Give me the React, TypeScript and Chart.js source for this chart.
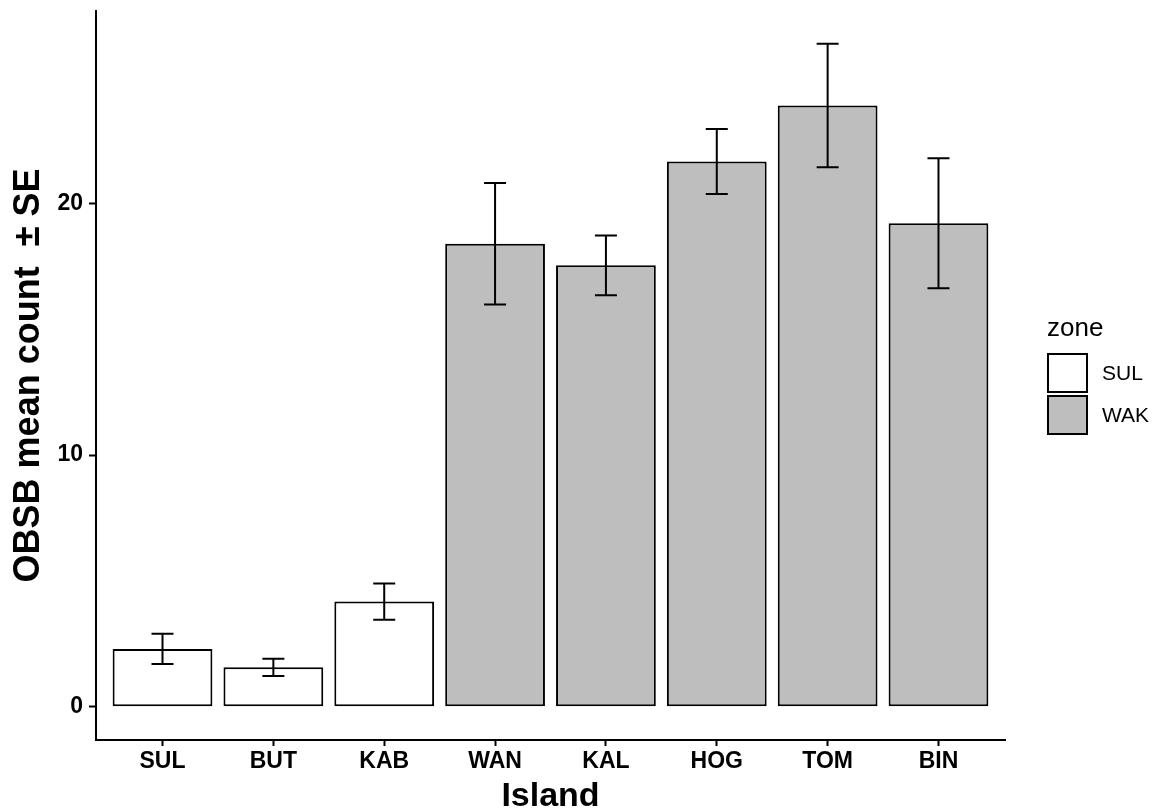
import React, { useEffect, useRef } from "react";
import { Chart, registerables } from "chart.js";

Chart.register(...registerables);

const islands = ["SUL", "BUT", "KAB", "WAN", "KAL", "HOG", "TOM", "BIN"];
const zones = ["SUL", "SUL", "SUL", "WAK", "WAK", "WAK", "WAK", "WAK"];
const means = [2.3, 1.57, 4.18, 18.39, 17.53, 21.65, 23.88, 19.2];
const ses = [0.6, 0.34, 0.72, 2.41, 1.19, 1.29, 2.45, 2.58];
const zoneNames = ["SUL", "WAK"];
const zoneColors = ["#FFFFFF", "#BEBEBE"];
const yTicks = [0, 10, 20];

const FONT = "'Liberation Sans', Arial, sans-serif";

const errorBarPlugin = {
  id: "errorBars",
  afterDatasetsDraw(chart: any) {
    const { ctx, scales } = chart;
    const xs = scales.x;
    const ys = scales.y;
    ctx.save();
    ctx.strokeStyle = "#000";
    ctx.lineWidth = 2;
    islands.forEach((_, i) => {
      const x = xs.getPixelForValue(i + 1);
      const lo = ys.getPixelForValue(means[i] - ses[i]);
      const hi = ys.getPixelForValue(means[i] + ses[i]);
      const half = 11;
      ctx.beginPath();
      ctx.moveTo(x, lo);
      ctx.lineTo(x, hi);
      ctx.moveTo(x - half, lo);
      ctx.lineTo(x + half, lo);
      ctx.moveTo(x - half, hi);
      ctx.lineTo(x + half, hi);
      ctx.stroke();
    });
    ctx.restore();
  },
};

const legendPlugin = {
  id: "ggLegend",
  afterDraw(chart: any) {
    const { ctx } = chart;
    ctx.save();
    ctx.fillStyle = "#000";
    ctx.textAlign = "left";
    ctx.textBaseline = "alphabetic";
    ctx.font = `26px ${FONT}`;
    ctx.fillText("zone", 1047, 336);
    zoneNames.forEach((z, i) => {
      const top = 354 + i * 42;
      ctx.fillStyle = zoneColors[i];
      ctx.fillRect(1048, top, 39, 38);
      ctx.strokeStyle = "#000";
      ctx.lineWidth = 2;
      ctx.strokeRect(1048, top, 39, 38);
      ctx.fillStyle = "#000";
      ctx.font = `21px ${FONT}`;
      ctx.textBaseline = "middle";
      ctx.fillText(z, 1102, top + 20);
    });
    ctx.restore();
  },
};

export default function App() {
  const ref = useRef<HTMLCanvasElement | null>(null);

  useEffect(() => {
    if (!ref.current) return;
    const datasets = zoneNames.map((z, zi) => ({
      label: z,
      data: islands
        .map((_, i) => ({ x: i + 1, y: means[i], zone: zones[i] }))
        .filter((d) => d.zone === z),
      backgroundColor: zoneColors[zi],
      borderColor: "#000",
      borderWidth: 2,
      borderSkipped: false as any,
      grouped: false,
      barPercentage: 0.9,
      categoryPercentage: 1.0,
    }));

    const chart = new Chart(ref.current, {
      type: "bar",
      data: { datasets: datasets as any },
      options: {
        animation: false,
        responsive: false,
        devicePixelRatio: 1,
        layout: { padding: { top: 11, right: 154, left: 0, bottom: 0 } },
        plugins: {
          legend: { display: false },
          tooltip: { enabled: false },
        },
        scales: {
          x: {
            type: "linear",
            min: 0.4,
            max: 8.6,
            offset: false,
            afterBuildTicks: (scale: any) => {
              scale.ticks = islands.map((_, i) => ({ value: i + 1 }));
            },
            afterFit: (scale: any) => {
              scale.height = 69;
              scale.paddingLeft = 0;
              scale.paddingRight = 0;
            },
            ticks: {
              callback: (v: any) => islands[Math.round(Number(v)) - 1] ?? "",
              color: "#000",
              font: { family: FONT, size: 23, weight: "bold" },
              padding: 2,
              maxRotation: 0,
              autoSkip: false,
            },
            grid: {
              display: true,
              offset: false,
              drawOnChartArea: false,
              drawTicks: true,
              tickLength: 6,
              tickWidth: 2,
              tickColor: "#000",
            },
            border: { display: true, color: "#000", width: 2 },
            title: {
              display: true,
              text: "Island",
              color: "#000",
              font: { family: FONT, size: 34, weight: "bold", lineHeight: 0.7 },
              padding: 0,
            },
          },
          y: {
            type: "linear",
            min: -1.316,
            max: 27.63,
            afterBuildTicks: (scale: any) => {
              scale.ticks = yTicks.map((v) => ({ value: v }));
            },
            afterFit: (scale: any) => {
              scale.width = 96;
              scale.paddingTop = 0;
              scale.paddingBottom = 0;
            },
            ticks: {
              color: "#000",
              font: { family: FONT, size: 23, weight: "bold" },
              padding: 6,
            },
            grid: {
              display: true,
              drawOnChartArea: false,
              drawTicks: true,
              tickLength: 7,
              tickWidth: 2,
              tickColor: "#000",
            },
            border: { display: true, color: "#000", width: 2 },
            title: {
              display: true,
              text: "OBSB mean count  ± SE",
              color: "#000",
              font: { family: FONT, size: 36, weight: "bold", lineHeight: 1 },
              padding: { top: 11, bottom: 0 },
            },
          },
        },
      },
      plugins: [errorBarPlugin, legendPlugin],
    });
    return () => chart.destroy();
  }, []);

  return (
    <div style={{ position: "absolute", left: 0, top: 0, width: 1159, height: 809, background: "#fff" }}>
      <canvas ref={ref} width={1159} height={809} style={{ display: "block" }} />
    </div>
  );
}
